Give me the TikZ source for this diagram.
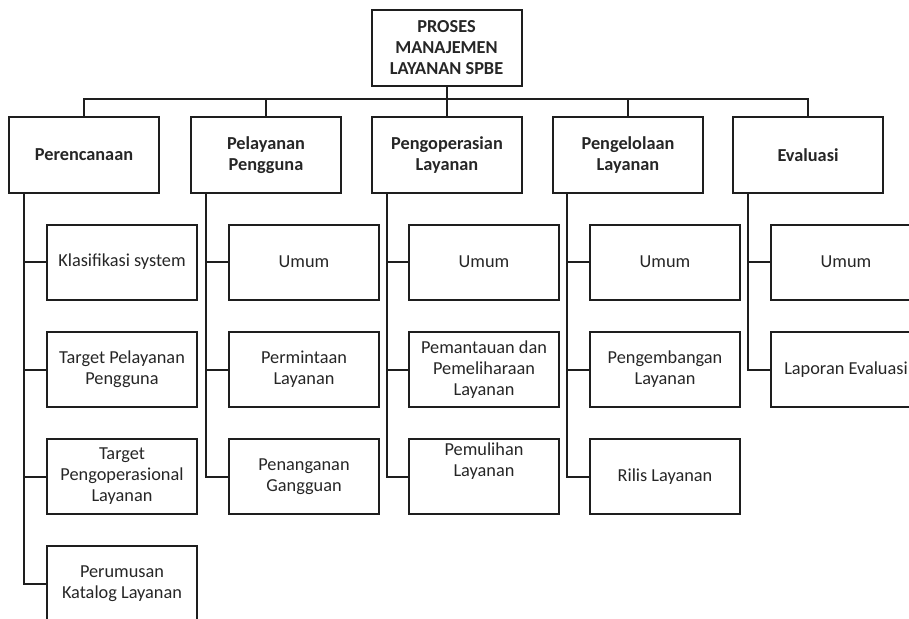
\documentclass[tikz,border=0pt]{standalone}
\usepackage{fontspec}
\setmainfont{Carlito}
\definecolor{linec}{HTML}{1E1E1E}
\definecolor{textc}{HTML}{262626}
\begin{document}
\begin{tikzpicture}[x=1pt,y=-1pt,
  box/.style={draw=linec, line width=2pt, minimum width=150pt, minimum height=76pt,
    inner sep=2pt, align=center, text=textc, font=\fontsize{18.3}{21}\selectfont},
  head/.style={box, font=\fontsize{18.3}{21}\selectfont\bfseries},
  sub/.style={box, minimum height=75pt},
  conn/.style={draw=linec, line width=2pt}]
\useasboundingbox (0,0) rectangle (909,618);
\clip (0,0) rectangle (909,618);
% root
\node[head] (top) at (446.5,48) {PROSES\\MANAJEMEN\\LAYANAN SPBE};
% level 1
\node[head] (p1) at (84,155) {Perencanaan};
\node[head] (p2) at (266,155) {Pelayanan\\Pengguna};
\node[head] (p3) at (447,155) {Pengoperasian\\Layanan};
\node[head] (p4) at (628,155) {Pengelolaan\\Layanan};
\node[head] (p5) at (808,155) {Evaluasi};
% trunk tops
\coordinate (t1) at (24,193);
\coordinate (t2) at (206,193);
\coordinate (t3) at (387,193);
\coordinate (t4) at (567,193);
\coordinate (t5) at (748,193);
% children
\node[sub] (c11) at (122,262) {Klasifikasi system};
\node[sub] (c12) at (122,369.5) {Target Pelayanan\\Pengguna};
\node[sub] (c13) at (122,476.5) {Target\\Pengoperasional\\Layanan};
\node[sub] (c14) at (122,583.5) {Perumusan\\Katalog Layanan};
\node[sub] (c21) at (304,262) {Umum};
\node[sub] (c22) at (304,369.5) {Permintaan\\Layanan};
\node[sub] (c23) at (304,476.5) {Penanganan\\Gangguan};
\node[sub] (c31) at (484,262) {Umum};
\node[sub] (c32) at (484,369.5) {Pemantauan dan\\Pemeliharaan\\Layanan};
\node[sub] (c33) at (484,476.5) {\raisebox{15pt}[\height][\depth]{\begin{tabular}{@{}c@{}}Pemulihan\\Layanan\end{tabular}}};
\node[sub] (c41) at (665,262) {Umum};
\node[sub] (c42) at (665,369.5) {Pengembangan\\Layanan};
\node[sub] (c43) at (665,476.5) {Rilis Layanan};
\node[sub] (c51) at (846,262) {Umum};
\node[sub] (c52) at (846,369.5) {Laporan Evaluasi};
% bus
\draw[conn] (top.south) -- ++(0,14);
\draw[conn] (p1.north) -- ++(0,-17) -| (p5.north);
\foreach \p in {p2,p3,p4}
  \draw[conn] (\p.north) -- ++(0,-17);
% trunks
\draw[conn] (t1) |- (c14.west);
\draw[conn] (t2) |- (c23.west);
\draw[conn] (t3) |- (c33.west);
\draw[conn] (t4) |- (c43.west);
\draw[conn] (t5) |- (c52.west);
\foreach \c/\t in {c11/t1,c12/t1,c13/t1,c21/t2,c22/t2,c31/t3,c32/t3,c41/t4,c42/t4,c51/t5}
  \draw[conn] (\c.west) -- (\c.west -| \t);
\end{tikzpicture}
\end{document}
